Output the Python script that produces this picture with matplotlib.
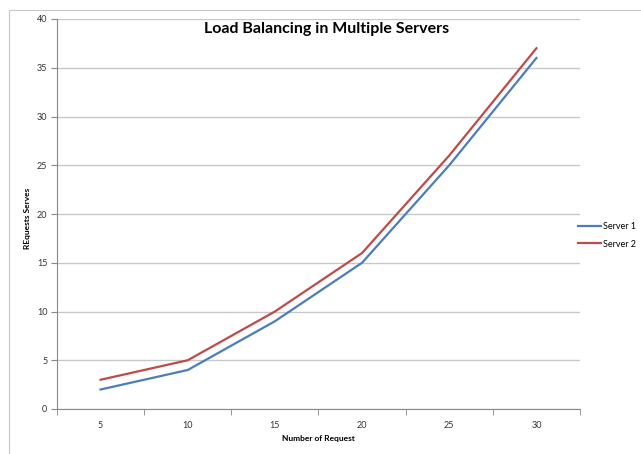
import matplotlib
matplotlib.use("Agg")
import matplotlib.pyplot as plt
from matplotlib.patches import Rectangle

plt.rcParams["font.family"] = ["Lato", "DejaVu Sans"]

# data
requests = ["5", "10", "15", "20", "25", "30"]
server1 = [2, 4, 9, 15, 25, 36]
server2 = [3, 5, 10, 16, 26, 37]

fig = plt.figure(figsize=(6.41, 4.54), dpi=100)
ax = fig.add_axes([57 / 641, 1 - 409 / 454, (580 - 57) / 641, (409 - 19) / 454])

# outer chart frame (only left and top are visible in the picture)
fig.patches.append(Rectangle((9 / 641, -0.1), 1.2, 1 - 10 / 454 + 0.1,
                             transform=fig.transFigure, fill=False,
                             edgecolor="#c8c8c8", linewidth=0.8))

x = range(len(requests))
ax.plot(x, server1, color="#4a7ebb", linewidth=1.6, label="Server 1")
ax.plot(x, server2, color="#be4b48", linewidth=1.6, label="Server 2")

ax.set_xlim(-0.5, len(requests) - 0.5)
ax.set_ylim(0, 40)
ax.set_yticks(range(0, 41, 5))
ax.set_xticks(list(x))
ax.set_xticklabels(requests)
ax.set_xticks([i - 0.5 for i in range(len(requests) + 1)], minor=True)
ax.tick_params(axis="x", which="major", length=0, pad=9, labelsize=6.5, colors="#333333")
ax.tick_params(axis="x", which="minor", length=4, color="#888888", direction="out")
ax.tick_params(axis="y", length=4, color="#888888", labelsize=6.5, labelcolor="#333333", pad=3)

ax.grid(axis="y", color="#c8c8c8", linewidth=1.0)
ax.set_axisbelow(True)
for s in ["top", "right"]:
    ax.spines[s].set_visible(False)
for s in ["left", "bottom"]:
    ax.spines[s].set_color("#888888")
    ax.spines[s].set_linewidth(0.8)

ax.text(0.515, 0.975, "Load Balancing in Multiple Servers", transform=ax.transAxes,
        fontsize=11.5, fontweight="bold", ha="center", va="center")
ax.set_xlabel("Number of Request", fontsize=6, fontweight="bold", labelpad=3)
ax.set_ylabel("REquests Serves", fontsize=6, fontweight="bold")
ax.yaxis.set_label_coords(-0.05, 0.49)

ax.legend(loc="center left", bbox_to_anchor=(0.98, 0.445), frameon=False,
          fontsize=6.5, handlelength=2.6, handletextpad=0.2, labelspacing=0.9)

plt.savefig("out.png", dpi=100)
